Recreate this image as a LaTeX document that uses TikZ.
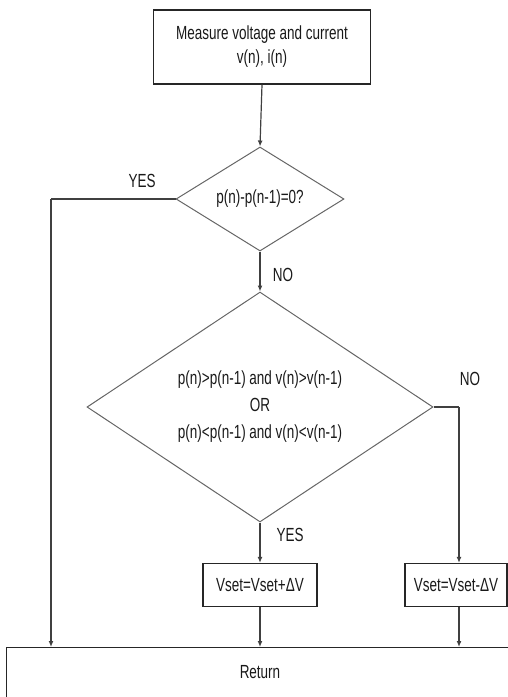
\documentclass[tikz,border=0pt]{standalone}
\usepackage{fontspec}
\setmainfont{Liberation Sans}[FakeStretch=0.71]
\usetikzlibrary{shapes.geometric,arrows.meta}
\begin{document}
\begin{tikzpicture}[
            x=1pt, y=-1pt,
            every node/.style={font=\fontsize{19}{24}\selectfont, text=black!90},
            box/.style={rectangle, draw=black!85, line width=1.2pt, inner sep=0pt, align=center},
            decision/.style={diamond, draw=black!60, line width=1pt, inner sep=0pt, align=center},
            arrow/.style={draw=black!75, line width=1.2pt, -{Latex[length=6pt,width=5pt]}},
            line/.style={draw=black!75, line width=1.2pt},
        ]
        \useasboundingbox (0,0) rectangle (508,697);
        \clip (0,0) rectangle (508,697);
        \node[box, minimum width=217pt, minimum height=74pt] (meas) at (262,47)
            {Measure voltage and current\\v(n), i(n)};
        \node[decision, minimum width=168pt, minimum height=104pt, aspect=1.6] (d1) at (260,199)
            {p(n)-p(n-1)=0?};
        \node[decision, minimum width=346pt, minimum height=230pt, aspect=1.5,
            font=\fontsize{19}{27}\selectfont] (d2) at (260,407)
            {p(n)>p(n-1) and v(n)>v(n-1)\\OR\\p(n)<p(n-1) and v(n)<v(n-1)};
        \node[box, minimum width=114pt, minimum height=43pt] (vinc) at (260,585) {Vset=Vset+ΔV};
        \node[box, minimum width=102pt, minimum height=43pt] (vdec) at (456,585) {Vset=Vset-ΔV};
        \node[box, anchor=north west, minimum width=524pt, minimum height=73pt] (ret) at (6,647) {};
        \node (rettxt) at (260,672) {Return};
        \coordinate (yesl) at (51,199);
        \coordinate (nor) at (459,407);
        \node (yes1) at (142,181) {YES};
        \node (no1) at (283,275) {NO};
        \node (no2) at (470,379) {NO};
        \node (yes2) at (290,535) {YES};
        \draw[arrow] (meas.south) -- (d1.north);
        \draw[line] (d1.west) -- (yesl);
        \draw[arrow] (yesl) -- (yesl |- ret.north);
        \draw[arrow] (d1.south) -- (d2.north);
        \draw[line] (d2.east) -- (nor);
        \draw[arrow] (nor) -- (nor |- vdec.north);
        \draw[arrow] (d2.south) -- (vinc.north);
        \draw[arrow] (vinc.south) -- (vinc.south |- ret.north);
        \draw[arrow] (nor |- vdec.south) -- (nor |- ret.north);
\end{tikzpicture}
\end{document}
